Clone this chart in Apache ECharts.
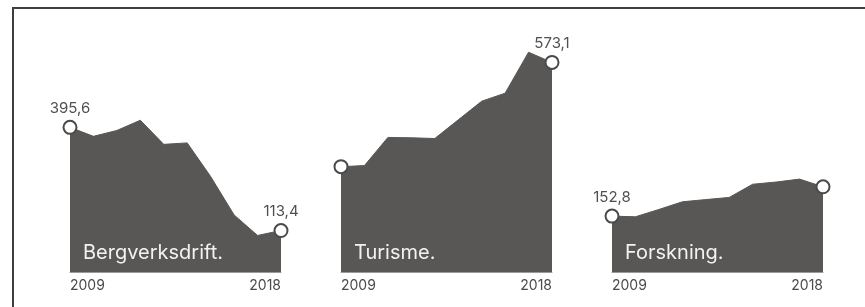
<!DOCTYPE html>
<html>
<head>
<meta charset="utf-8">
<script src="https://cdn.jsdelivr.net/npm/echarts@6/dist/echarts.min.js"></script>
<style>
  html, body { margin: 0; padding: 0; background: #fff; }
  #frame { position: absolute; left: 12px; top: 7px; width: 860px; height: 310px;
           border-top: 2px solid #3f3f3f; border-left: 2px solid #3f3f3f; }
  #charts { position: absolute; left: 0; top: 0; width: 865px; height: 307px; }
</style>
</head>
<body>
<div id="frame"></div>
<div id="charts"></div>
<script>
const years = ["2009", "2010", "2011", "2012", "2013", "2014", "2015", "2016", "2017", "2018"];
const titles = ["Bergverksdrift.", "Turisme.", "Forskning."];
const bergverk = [395.6, 371, 387, 415, 349, 353, 261, 156, 100, 113.4];
const turisme = [288, 291, 368, 367, 365, 416, 467, 489, 601, 573.1];
const forskning = [152.8, 151, 171, 192, 198, 204, 240, 246, 254, 233];
// which end point (first, last) carries a value label
const endLabels = [[true, true], [false, true], [true, false]];

const chart = echarts.init(document.getElementById("charts"));

const gridLefts = [70, 341, 612];
const gridWidth = 211;
const seriesData = [bergverk, turisme, forskning];
const fontFamily = "Inter, 'Noto Sans', sans-serif";

function fmt(v) {
  return v.toFixed(1).replace(".", ",");
}

function buildData(values, labels) {
  return values.map((v, i) => {
    const isFirst = i === 0;
    const isLast = i === values.length - 1;
    if (!isFirst && !isLast) {
      return { value: v, symbol: "none" };
    }
    const show = isFirst ? labels[0] : labels[1];
    return {
      value: v,
      symbol: "circle",
      symbolSize: 13,
      label: { show: show, formatter: fmt(v) }
    };
  });
}

const option = {
  animation: false,
  grid: gridLefts.map(l => ({ left: l, width: gridWidth, top: 16, bottom: 35 })),
  xAxis: gridLefts.map((l, k) => ({
    type: "category",
    gridIndex: k,
    data: years,
    boundaryGap: false,
    axisLine: { show: true, lineStyle: { color: "#9a9a9a", width: 1 } },
    axisTick: { show: false },
    axisLabel: {
      interval: (i) => i === 0 || i === years.length - 1,
      alignMinLabel: "left",
      alignMaxLabel: "right",
      color: "#4a4a4a",
      fontFamily: fontFamily,
      fontSize: 14,
      margin: 7
    },
    splitLine: { show: false }
  })),
  yAxis: gridLefts.map((l, k) => ({
    type: "value",
    gridIndex: k,
    min: 0,
    max: 700,
    show: false,
    splitLine: { show: false }
  })),
  series: seriesData.map((vals, k) => ({
    type: "line",
    xAxisIndex: k,
    yAxisIndex: k,
    data: buildData(vals, endLabels[k]),
    showSymbol: true,
    symbol: "none",
    lineStyle: { color: "#595755", width: 1 },
    areaStyle: { color: "#595755", opacity: 1 },
    itemStyle: { color: "#ffffff", borderColor: "#4a4a4a", borderWidth: 2 },
    label: {
      position: "top",
      distance: 4,
      color: "#505050",
      fontFamily: fontFamily,
      fontSize: 15
    },
    z: 2
  })),
  graphic: titles.map((t, k) => ({
    type: "text",
    left: gridLefts[k] + 13,
    top: 243,
    z: 10,
    style: {
      text: t,
      fill: "#f2f2f2",
      font: "20px " + fontFamily
    }
  }))
};

chart.setOption(option);
</script>
</body>
</html>
